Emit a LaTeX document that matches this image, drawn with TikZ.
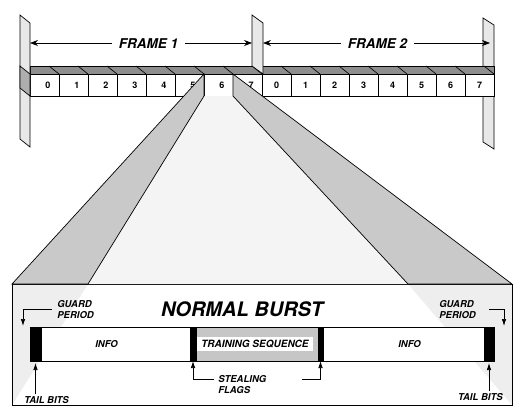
\documentclass[tikz,border=0pt]{standalone}
\usepackage{fontspec}
\setmainfont{TeX Gyre Heros}
\usetikzlibrary{arrows.meta, positioning, calc}
\definecolor{PlateGrey}{HTML}{E8E8E8}
\definecolor{TopGrey}{HTML}{8E8E8E}
\definecolor{EndGrey}{HTML}{AEAEAE}
\definecolor{BandGrey}{HTML}{C9C9C9}
\definecolor{FanGrey}{HTML}{F4F4F4}
\definecolor{FaceGrey}{HTML}{EEEEEE}
\definecolor{SeqGrey}{HTML}{C6C6C6}
\tikzset{
  slotbox/.style={rectangle, draw=black, fill=white, line width=0.7pt,
                  minimum width=29pt, minimum height=22pt, inner sep=0pt,
                  outer sep=0pt, anchor=north west,
                  font=\fontsize{9}{10}\selectfont\bfseries},
  seg/.style={rectangle, draw=black, fill=#1, line width=0.7pt,
              minimum height=34pt, inner sep=0pt, outer sep=0pt, anchor=west},
  lbl/.style={font=\fontsize{9.5}{11}\selectfont\bfseries\itshape,
              align=left, inner sep=2pt},
  framelbl/.style={font=\fontsize{13.5}{16}\selectfont\bfseries\itshape,
                   inner xsep=7pt},
}

\begin{document}
\begin{tikzpicture}[x=1pt, y=-1pt, line width=0.7pt,
    farr/.style={-{Stealth[length=8pt,width=6pt]}, line width=0.7pt},
    larr/.style={-{Latex[length=7pt,width=4.5pt]}, line width=0.7pt}
  ]
  \useasboundingbox (0,0) rectangle (520,418);

  % plates and the top of the slot bar
  \draw[fill=PlateGrey] (483,18) -- (494,25) -- (494,149) -- (483,142) -- cycle;
  \draw[fill=TopGrey] (30,66) rectangle (494,74);
  \foreach \k in {1,...,16}
    \draw ({20+29*\k},66) -- ({30+29*\k},74);
  \draw[fill=PlateGrey] (252,15) -- (263,23) -- (263,74) -- (252,66) -- cycle;

  % time slots of both frames
  \foreach \i in {0,...,15} {
    \pgfmathtruncatemacro\d{mod(\i,8)}
    \pgfmathtruncatemacro\dx{\i<8 ? 7 : 0}
    \node[slotbox] (s\i) at ({30+29*\i},74) {\hspace*{\dx pt}\d};
  }
  \draw[fill=PlateGrey] (20,15) -- (30,23) -- (30,147) -- (20,139) -- cycle;
  \draw[fill=EndGrey] (20,66) -- (30,74) -- (30,96) -- (20,88) -- cycle;

  % frame arrows
  \coordinate (f1a) at (30,43);
  \coordinate (f1b) at (252,43);
  \coordinate (f2a) at (263,43);
  \coordinate (f2b) at (490,43);
  \node[framelbl] (frame1) at (148.5,44) {FRAME 1};
  \node[framelbl] (frame2) at (377.5,44) {FRAME 2};
  \draw[farr] (frame1.west |- f1a) -- (f1a);
  \draw[farr] (frame1.east |- f1b) -- (f1b);
  \draw[farr] (frame2.west |- f2a) -- (f2a);
  \draw[farr] (frame2.east |- f2b) -- (f2b);

  % normal burst box and the fan from slot 6
  \node[rectangle, draw=black, fill=white, line width=0.7pt,
        minimum width=500pt, minimum height=121pt, inner sep=0pt,
        outer sep=0pt] (burst) at (262,344.5) {};
  \coordinate (fanL) at (88,284);
  \coordinate (fanR) at (408,284);
  \fill[FaceGrey] (burst.north west) -- (fanL) -- (burst.south west) -- cycle;
  \fill[FaceGrey] (fanR) -- (burst.north east) -- (burst.south east) -- cycle;
  \draw (burst.north west) rectangle (burst.south east);
  \fill[FanGrey] (s6.south west) -- (s6.south east) -- (fanR) -- (fanL) -- cycle;
  \draw[fill=BandGrey] (s6.north west) -- (s6.south west) -- (fanL)
    -- (burst.north west) -- cycle;
  \draw[fill=BandGrey] (s6.north east) -- (s6.south east) -- (fanR)
    -- (burst.north east) -- cycle;

  \node[font=\fontsize{20}{24}\selectfont\bfseries\itshape] (title)
    at (242,309.5) {NORMAL BURST};

  % burst fields
  \node[seg=black, minimum width=11pt] (tailL) at (30,344) {};
  \node[seg=white, minimum width=149pt, right=0pt of tailL] (infoL) {};
  \node[seg=black, minimum width=6pt, right=0pt of infoL] (flagL) {};
  \node[seg=SeqGrey, minimum width=122pt, right=0pt of flagL] (train) {};
  \node[seg=black, minimum width=5pt, right=0pt of train] (flagR) {};
  \node[seg=white, minimum width=161pt, right=0pt of flagR] (infoR) {};
  \node[seg=black, minimum width=10pt, right=0pt of infoR] (tailR) {};
  \node[lbl] (infoLtxt) at ([xshift=-9pt]infoL.center) {INFO};
  \node[lbl] (infoRtxt) at ([xshift=6pt]infoR.center) {INFO};
  \node[lbl, fill=white, minimum width=116pt, minimum height=14pt,
        font=\fontsize{10}{11}\selectfont\bfseries\itshape] (trainlbl)
    at ([xshift=-2pt]train.center) {TRAINING SEQUENCE};

  % labels round the burst
  \node[lbl, anchor=west] (gpL) at (55,309.5) {GUARD\\PERIOD};
  \node[lbl, anchor=west] (gpR) at (437,309.5) {GUARD\\PERIOD};
  \coordinate (gdL) at (23,326);
  \coordinate (gdR) at (504,326);
  \draw[larr] ([xshift=-3pt]gpL.west) -| (gdL);
  \draw[larr] ([xshift=11pt]gpR.east) -| (gdR);

  \node[lbl, anchor=west] (tbL) at (22,400) {TAIL BITS};
  \node[lbl, anchor=east] (tbR) at (505,397) {TAIL BITS};
  \draw[larr] (tbL.north -| tailL.south) -- ([yshift=-2pt]tailL.south);
  \draw[larr] (tbR.north -| tailR.south) -- ([yshift=-2pt]tailR.south);

  \node[lbl, anchor=west] (stl) at (216,385) {STEALING\\FLAGS};
  \coordinate (stlL) at (214,379);
  \coordinate (stlR) at (302,379);
  \draw[larr] (stlL) -| (flagL.south);
  \draw[larr] (stlR) -| (flagR.south);
\end{tikzpicture}
\end{document}
